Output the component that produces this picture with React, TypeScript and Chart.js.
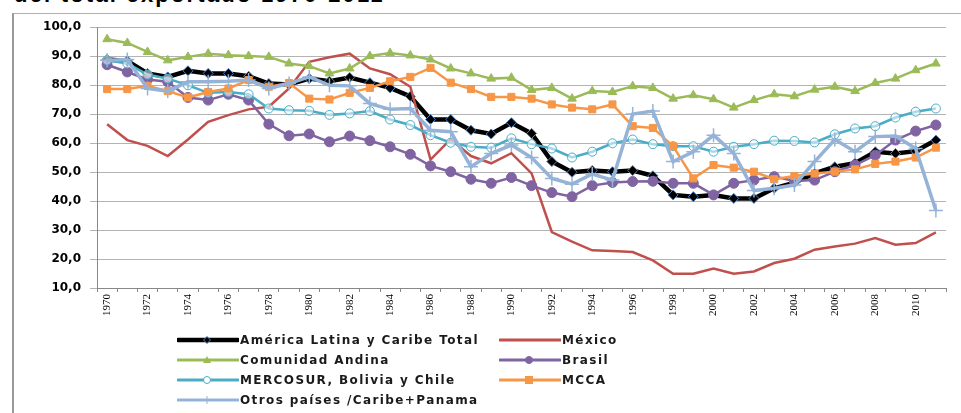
import React, { useEffect, useRef } from "react";
import { Chart, registerables } from "chart.js";

Chart.register(...registerables);

const years: string[] = [];
for (let y = 1970; y <= 2011; y++) years.push(String(y));

const totalAL = [88.8, 88.3, 84.0, 82.8, 84.9, 84.0, 84.0, 83.0, 80.5, 80.2, 82.2, 81.3, 82.6, 80.8, 79.0, 76.1, 68.1, 68.1, 64.4, 63.1, 67.0, 63.3, 53.6, 49.9, 50.5, 50.1, 50.5, 48.7, 42.1, 41.5, 42.1, 40.9, 40.9, 44.4, 46.3, 49.5, 51.8, 53.0, 57.0, 56.4, 57.2, 61.0];
const mexico = [66.5, 61.0, 59.0, 55.5, 61.2, 67.3, 69.6, 71.6, 72.5, 78.8, 88.0, 89.6, 90.8, 85.7, 83.7, 79.4, 54.3, 61.3, 55.5, 53.0, 56.5, 49.5, 29.3, 26.0, 23.0, 22.8, 22.4, 19.5, 14.9, 14.9, 16.7, 14.9, 15.7, 18.6, 20.1, 23.2, 24.3, 25.3, 27.2, 24.9, 25.5, 29.2];
const andina = [95.8, 94.5, 91.4, 88.5, 89.7, 90.8, 90.3, 90.0, 89.7, 87.4, 86.5, 84.0, 85.7, 90.0, 91.0, 90.2, 88.8, 85.7, 84.0, 82.2, 82.5, 78.3, 79.0, 75.3, 77.9, 77.6, 79.6, 79.0, 75.3, 76.5, 75.1, 72.2, 74.8, 76.8, 76.1, 78.4, 79.4, 77.9, 80.7, 82.2, 85.1, 87.4];
const brasil = [87.0, 84.5, 81.9, 81.1, 75.7, 74.8, 76.8, 74.8, 66.5, 62.5, 63.1, 60.4, 62.4, 60.8, 58.7, 56.1, 52.1, 50.1, 47.5, 46.1, 48.1, 45.3, 42.9, 41.5, 45.3, 46.4, 46.7, 46.8, 46.1, 46.1, 42.1, 46.1, 47.2, 48.4, 46.9, 47.2, 50.1, 52.4, 55.8, 61.0, 64.1, 66.2];
const mercosur = [88.5, 87.4, 83.6, 82.2, 79.9, 77.3, 77.6, 76.8, 71.9, 71.3, 71.1, 69.7, 70.2, 71.0, 68.1, 66.2, 62.7, 60.1, 58.7, 58.4, 61.6, 59.6, 58.1, 55.0, 57.0, 59.9, 61.2, 59.6, 58.9, 58.9, 57.0, 58.7, 59.6, 60.8, 60.7, 60.2, 63.0, 65.0, 65.8, 68.8, 70.8, 71.9];
const mcca = [78.6, 78.6, 79.7, 77.9, 75.7, 77.6, 78.8, 81.7, 79.4, 80.7, 75.3, 75.0, 77.3, 79.0, 81.3, 82.8, 85.9, 80.8, 78.6, 75.9, 75.9, 75.3, 73.3, 72.2, 71.6, 73.3, 65.8, 65.2, 58.9, 47.8, 52.4, 51.5, 50.1, 47.5, 48.6, 49.5, 50.1, 50.9, 52.8, 53.6, 55.0, 58.4];
const otros = [88.5, 88.8, 78.8, 77.9, 81.1, 81.1, 81.3, 81.7, 78.8, 80.5, 82.8, 79.9, 79.7, 73.6, 71.6, 71.9, 64.4, 63.9, 51.8, 56.4, 59.3, 55.0, 47.8, 45.8, 49.3, 47.2, 70.0, 71.0, 53.6, 57.0, 62.7, 56.4, 43.6, 44.4, 45.5, 53.6, 61.2, 57.0, 62.2, 62.4, 58.1, 36.7];

const titleText = "del total exportado 1970-2011";

type Series = {
  label: string;
  data: number[];
  color: string;
  width: number;
  marker: string | false;
  radius: number;
  fill: string;
  edge: string;
};

const series: Series[] = [
  { label: "América Latina y Caribe Total", data: totalAL, color: "#000000", width: 4.5, marker: "rectRot", radius: 5, fill: "#000000", edge: "#4F81BD" },
  { label: "México", data: mexico, color: "#C0504D", width: 2.5, marker: false, radius: 0, fill: "#C0504D", edge: "#C0504D" },
  { label: "Comunidad Andina", data: andina, color: "#9BBB59", width: 2.5, marker: "triangle", radius: 5, fill: "#9BBB59", edge: "#9BBB59" },
  { label: "Brasil", data: brasil, color: "#8064A2", width: 2.5, marker: "circle", radius: 5, fill: "#8064A2", edge: "#8064A2" },
  { label: "MERCOSUR, Bolivia y Chile", data: mercosur, color: "#4BACC6", width: 2.5, marker: "circle", radius: 4.5, fill: "rgba(255,255,255,0.55)", edge: "#4BACC6" },
  { label: "MCCA", data: mcca, color: "#F79646", width: 2.5, marker: "rect", radius: 5, fill: "#F79646", edge: "#F79646" },
  { label: "Otros países /Caribe+Panama", data: otros, color: "#95B3D7", width: 3.5, marker: "cross", radius: 7, fill: "#95B3D7", edge: "#95B3D7" },
];

function Swatch({ s }: { s: Series }) {
  const cx = 30, cy = 6;
  let m: React.ReactNode = null;
  if (s.marker === "rectRot") m = <polygon points={`${cx},${cy - 3.5} ${cx + 3.5},${cy} ${cx},${cy + 3.5} ${cx - 3.5},${cy}`} fill={s.fill} stroke={s.edge} strokeWidth={1} />;
  if (s.marker === "triangle") m = <polygon points={`${cx},${cy - 4} ${cx + 4},${cy + 3} ${cx - 4},${cy + 3}`} fill={s.fill} />;
  if (s.marker === "circle") m = <circle cx={cx} cy={cy} r={3.5} fill={s.fill === s.edge ? s.fill : "#ffffff"} stroke={s.edge} strokeWidth={1} />;
  if (s.marker === "rect") m = <rect x={cx - 4} y={cy - 4} width={8} height={8} fill={s.fill} />;
  if (s.marker === "cross") m = <line x1={cx} y1={cy - 4} x2={cx} y2={cy + 4} stroke={s.edge} strokeWidth={1} />;
  return (
    <svg width={62} height={12} style={{ display: "block" }}>
      <line x1={1} y1={cy} x2={61} y2={cy} stroke={s.color} strokeWidth={s.marker === "rectRot" ? 4.5 : 3} strokeLinecap="round" />
      {m}
    </svg>
  );
}

export default function App() {
  const ref = useRef<HTMLCanvasElement | null>(null);

  useEffect(() => {
    if (!ref.current) return;
    const chart = new Chart(ref.current, {
      type: "line",
      data: {
        labels: years,
        datasets: series.map((s, i) => ({
          label: s.label,
          data: s.data,
          borderColor: s.color,
          borderWidth: s.width,
          backgroundColor: s.fill,
          pointStyle: s.marker === false ? "circle" : (s.marker as any),
          pointRadius: s.radius,
          pointBackgroundColor: s.fill,
          pointBorderColor: s.edge,
          pointBorderWidth: s.marker === "cross" ? 1.5 : 1,
          tension: 0,
          fill: false,
          order: series.length - i,
        })),
      },
      options: {
        responsive: false,
        animation: false,
        devicePixelRatio: 1,
        layout: { padding: { top: 27, right: 15, bottom: 95, left: 0 } },
        plugins: { legend: { display: false }, tooltip: { enabled: false }, title: { display: false } },
        scales: {
          x: {
            type: "category",
            offset: true,
            grid: { drawOnChartArea: false, drawTicks: true, offset: true, tickLength: 4, color: "#888888" },
            border: { color: "#888888", width: 1 },
            ticks: {
              autoSkip: false,
              maxRotation: 90,
              minRotation: 90,
              padding: 2,
              color: "#000000",
              font: { family: "'Liberation Serif', serif", size: 11 },
              callback: (_v: any, idx: number) => (idx % 2 === 0 ? years[idx] : ""),
            },
          },
          y: {
            min: 10,
            max: 100,
            afterFit: (scale: any) => { scale.width = 97; },
            grid: { color: "#b3b3b3", lineWidth: 1, tickLength: 7, drawTicks: true },
            border: { color: "#888888", width: 1 },
            ticks: {
              stepSize: 10,
              padding: 9,
              color: "#000000",
              font: { family: "'DejaVu Sans', sans-serif", size: 12, weight: "bold" },
              callback: (v: any) => Number(v).toFixed(1).replace(".", ","),
            },
          },
        },
      },
    });
    return () => chart.destroy();
  }, []);

  const rowsY = [333, 353, 373, 393];
  const colX = [177, 499];

  return (
    <div style={{ position: "absolute", left: 0, top: 0, width: 961, height: 413, overflow: "hidden", background: "#ffffff" }}>
      <div
        style={{
          position: "absolute",
          left: 14,
          top: -17,
          fontFamily: "'Liberation Sans', Arial, sans-serif",
          fontWeight: "bold",
          fontSize: 22,
          lineHeight: "24px",
          letterSpacing: "2.2px",
          whiteSpace: "nowrap",
          color: "#000000",
        }}
      >
        {titleText}
      </div>
      <div style={{ position: "absolute", left: 12, top: 13, width: 949, height: 400, borderLeft: "2px solid #9a9a9a", borderTop: "1px solid #b0b0b0", boxSizing: "border-box" }} />
      <canvas ref={ref} width={961} height={413} style={{ position: "absolute", left: 0, top: 0, width: 961, height: 413 }} />
      {series.map((s, i) => {
        const row = Math.floor(i / 2);
        const col = i % 2;
        return (
          <div
            key={s.label}
            style={{
              position: "absolute",
              left: colX[col],
              top: rowsY[row],
              height: 14,
              display: "flex",
              alignItems: "center",
              whiteSpace: "nowrap",
            }}
          >
            <Swatch s={s} />
            <span
              style={{
                marginLeft: 1,
                fontFamily: "'DejaVu Sans', sans-serif",
                fontWeight: "bold",
                fontSize: 12,
                letterSpacing: "1.4px",
                color: "#1a1a1a",
                lineHeight: "14px",
              }}
            >
              {s.label}
            </span>
          </div>
        );
      })}
    </div>
  );
}
